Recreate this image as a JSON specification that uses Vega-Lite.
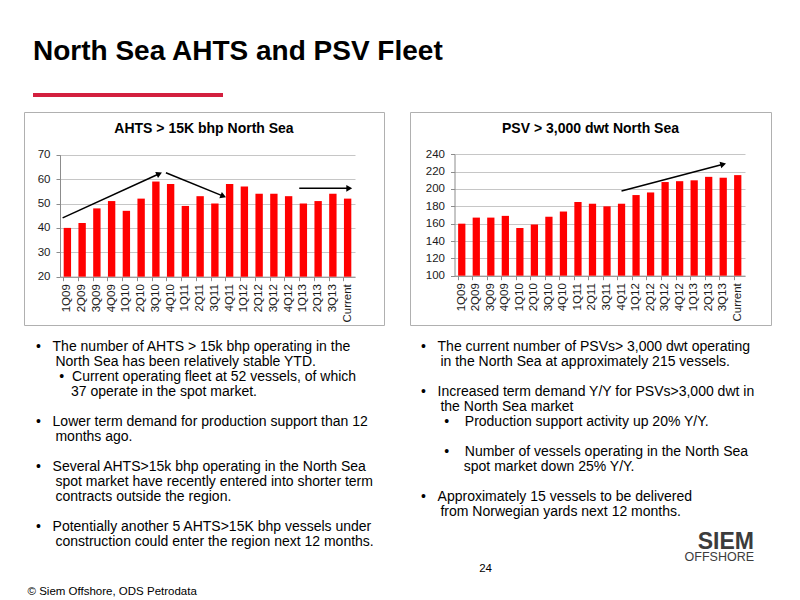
{
  "$schema": "https://vega.github.io/schema/vega-lite/v6.json",
  "background": "white",
  "padding": {"left": 23, "top": 38, "right": 0, "bottom": 0},
  "title": {"text": "© Siem Offshore, ODS Petrodata", "orient": "bottom", "anchor": "start", "fontSize": 11.5, "fontWeight": "normal", "color": "#000000", "offset": 11, "dx": 4},
  "config": {
    "view": {"stroke": null},
    "font": "Liberation Sans",
    "title": {"font": "Liberation Sans", "subtitleFont": "Liberation Sans", "color": "#000000"},
    "axis": {"labelFont": "Liberation Sans", "labelFontSize": 11.5, "labelColor": "#1a1a1a", "domainColor": "#8c8c8c", "tickColor": "#8c8c8c", "gridColor": "#c6c6c6", "labelOverlap": false}
  },
  "datasets": {
    "ahts": [
      {"quarter": "1Q09", "value": 40}, {"quarter": "2Q09", "value": 42}, {"quarter": "3Q09", "value": 48}, {"quarter": "4Q09", "value": 51},
      {"quarter": "1Q10", "value": 47}, {"quarter": "2Q10", "value": 52}, {"quarter": "3Q10", "value": 59}, {"quarter": "4Q10", "value": 58},
      {"quarter": "1Q11", "value": 49}, {"quarter": "2Q11", "value": 53}, {"quarter": "3Q11", "value": 50}, {"quarter": "4Q11", "value": 58},
      {"quarter": "1Q12", "value": 57}, {"quarter": "2Q12", "value": 54}, {"quarter": "3Q12", "value": 54}, {"quarter": "4Q12", "value": 53},
      {"quarter": "1Q13", "value": 50}, {"quarter": "2Q13", "value": 51}, {"quarter": "3Q13", "value": 54}, {"quarter": "Current", "value": 52}
    ],
    "psv": [
      {"quarter": "1Q09", "value": 160}, {"quarter": "2Q09", "value": 167}, {"quarter": "3Q09", "value": 167}, {"quarter": "4Q09", "value": 169},
      {"quarter": "1Q10", "value": 155}, {"quarter": "2Q10", "value": 159}, {"quarter": "3Q10", "value": 168}, {"quarter": "4Q10", "value": 174},
      {"quarter": "1Q11", "value": 185}, {"quarter": "2Q11", "value": 183}, {"quarter": "3Q11", "value": 180}, {"quarter": "4Q11", "value": 183},
      {"quarter": "1Q12", "value": 193}, {"quarter": "2Q12", "value": 196}, {"quarter": "3Q12", "value": 208}, {"quarter": "4Q12", "value": 209},
      {"quarter": "1Q13", "value": 210}, {"quarter": "2Q13", "value": 214}, {"quarter": "3Q13", "value": 213}, {"quarter": "Current", "value": 216}
    ],
    "ahtsArrows": [
      {"arrow": "rise", "point": "tail", "pos": -0.32, "value": 44.1},
      {"arrow": "rise", "point": "head", "pos": 6.23, "value": 62.2},
      {"arrow": "fall", "point": "tail", "pos": 6.68, "value": 62.6},
      {"arrow": "fall", "point": "head", "pos": 10.57, "value": 53.0},
      {"arrow": "flat", "point": "tail", "pos": 15.72, "value": 56.2},
      {"arrow": "flat", "point": "head", "pos": 19.11, "value": 56.2}
    ],
    "psvArrows": [
      {"arrow": "rise", "point": "tail", "pos": 11.0, "value": 197.7},
      {"arrow": "rise", "point": "head", "pos": 18.0, "value": 228.5}
    ]
  },
  "spacing": 14,
  "vconcat": [
    {
      "spacing": 8,
      "hconcat": [
        {"width": 1, "height": 4, "data": {"values": [{}]}, "mark": {"type": "rect", "opacity": 0}},
        {
          "width": 190, "height": 4,
          "data": {"values": [{}]},
          "mark": {"type": "rect", "color": "#d31f3e"},
          "title": {"text": "North Sea AHTS and PSV Fleet", "anchor": "start", "frame": "group", "fontSize": 28, "fontWeight": "bold", "offset": 27}
        }
      ]
    },
    {
      "spacing": 24,
      "hconcat": [
        {
          "width": 360, "height": 213,
          "view": {"stroke": "#b0b0b0", "strokeWidth": 1},
          "title": {"text": "AHTS > 15K bhp North Sea", "fontSize": 14, "fontWeight": "bold", "offset": -24, "frame": "group", "anchor": "middle"},
          "resolve": {"scale": {"x": "independent"}, "axis": {"x": "independent"}},
          "layer": [
            {
              "data": {"name": "ahts"},
              "mark": {"type": "bar", "color": "#ff0000"},
              "encoding": {
                "x": {"field": "quarter", "type": "ordinal", "sort": null,
                  "scale": {"range": [36, 331], "paddingInner": 0.5, "paddingOuter": 0.25},
                  "axis": {"title": null, "orient": "bottom", "offset": -48.3, "bandPosition": 0, "tickSize": 4, "labelAngle": 270, "labelPadding": 3, "grid": false}},
                "y": {"field": "value", "type": "quantitative",
                  "scale": {"domain": [20, 70], "range": [164.7, 42.7], "nice": false, "zero": false},
                  "axis": {"title": null, "offset": -36, "values": [20, 30, 40, 50, 60, 70], "tickSize": 4, "labelPadding": 6, "grid": true}},
                "y2": {"datum": 20}
              }
            },
            {
              "data": {"name": "ahtsArrows"},
              "mark": {"type": "line", "color": "#000000", "strokeWidth": 1.5},
              "encoding": {
                "x": {"field": "pos", "type": "quantitative", "scale": {"domain": [-0.5, 19.5], "range": [36, 331], "nice": false, "zero": false}, "axis": null},
                "y": {"field": "value", "type": "quantitative", "scale": {"domain": [20, 70], "range": [164.7, 42.7], "nice": false, "zero": false},
                  "axis": {"title": null, "offset": -36, "values": [20, 30, 40, 50, 60, 70], "tickSize": 4, "labelPadding": 6, "grid": true}},
                "detail": {"field": "arrow"}
              }
            },
            {
              "data": {"name": "ahtsArrows"},
              "transform": [{"filter": "datum.arrow == 'rise' && datum.point == 'head'"}],
              "mark": {"type": "point", "shape": "triangle-right", "filled": true, "color": "#000000", "opacity": 1, "size": 45, "angle": -24.6},
              "encoding": {
                "x": {"field": "pos", "type": "quantitative", "scale": {"domain": [-0.5, 19.5], "range": [36, 331], "nice": false, "zero": false}, "axis": null},
                "y": {"field": "value", "type": "quantitative", "scale": {"domain": [20, 70], "range": [164.7, 42.7], "nice": false, "zero": false},
                  "axis": {"title": null, "offset": -36, "values": [20, 30, 40, 50, 60, 70], "tickSize": 4, "labelPadding": 6, "grid": true}}
              }
            },
            {
              "data": {"name": "ahtsArrows"},
              "transform": [{"filter": "datum.arrow == 'fall' && datum.point == 'head'"}],
              "mark": {"type": "point", "shape": "triangle-right", "filled": true, "color": "#000000", "opacity": 1, "size": 45, "angle": 22.2},
              "encoding": {
                "x": {"field": "pos", "type": "quantitative", "scale": {"domain": [-0.5, 19.5], "range": [36, 331], "nice": false, "zero": false}, "axis": null},
                "y": {"field": "value", "type": "quantitative", "scale": {"domain": [20, 70], "range": [164.7, 42.7], "nice": false, "zero": false},
                  "axis": {"title": null, "offset": -36, "values": [20, 30, 40, 50, 60, 70], "tickSize": 4, "labelPadding": 6, "grid": true}}
              }
            },
            {
              "data": {"name": "ahtsArrows"},
              "transform": [{"filter": "datum.arrow == 'flat' && datum.point == 'head'"}],
              "mark": {"type": "point", "shape": "triangle-right", "filled": true, "color": "#000000", "opacity": 1, "size": 45, "angle": 0},
              "encoding": {
                "x": {"field": "pos", "type": "quantitative", "scale": {"domain": [-0.5, 19.5], "range": [36, 331], "nice": false, "zero": false}, "axis": null},
                "y": {"field": "value", "type": "quantitative", "scale": {"domain": [20, 70], "range": [164.7, 42.7], "nice": false, "zero": false},
                  "axis": {"title": null, "offset": -36, "values": [20, 30, 40, 50, 60, 70], "tickSize": 4, "labelPadding": 6, "grid": true}}
              }
            }
          ]
        },
        {
          "width": 361, "height": 213,
          "view": {"stroke": "#b0b0b0", "strokeWidth": 1},
          "title": {"text": "PSV > 3,000 dwt North Sea", "fontSize": 14, "fontWeight": "bold", "offset": -24, "frame": "group", "anchor": "middle"},
          "resolve": {"scale": {"x": "independent"}, "axis": {"x": "independent"}},
          "layer": [
            {
              "data": {"name": "psv"},
              "mark": {"type": "bar", "color": "#ff0000"},
              "encoding": {
                "x": {"field": "quarter", "type": "ordinal", "sort": null,
                  "scale": {"range": [44.5, 335], "paddingInner": 0.5, "paddingOuter": 0.25},
                  "axis": {"title": null, "orient": "bottom", "offset": -49.3, "bandPosition": 0, "tickSize": 4, "labelAngle": 270, "labelPadding": 3, "grid": false}},
                "y": {"field": "value", "type": "quantitative",
                  "scale": {"domain": [100, 240], "range": [163.7, 42.3], "nice": false, "zero": false},
                  "axis": {"title": null, "offset": -44.5, "values": [100, 120, 140, 160, 180, 200, 220, 240], "tickSize": 4, "labelPadding": 6, "grid": true}},
                "y2": {"datum": 100}
              }
            },
            {
              "data": {"name": "psvArrows"},
              "mark": {"type": "line", "color": "#000000", "strokeWidth": 1.5},
              "encoding": {
                "x": {"field": "pos", "type": "quantitative", "scale": {"domain": [-0.5, 19.5], "range": [44.5, 335], "nice": false, "zero": false}, "axis": null},
                "y": {"field": "value", "type": "quantitative", "scale": {"domain": [100, 240], "range": [163.7, 42.3], "nice": false, "zero": false},
                  "axis": {"title": null, "offset": -44.5, "values": [100, 120, 140, 160, 180, 200, 220, 240], "tickSize": 4, "labelPadding": 6, "grid": true}},
                "detail": {"field": "arrow"}
              }
            },
            {
              "data": {"name": "psvArrows"},
              "transform": [{"filter": "datum.point == 'head'"}],
              "mark": {"type": "point", "shape": "triangle-right", "filled": true, "color": "#000000", "opacity": 1, "size": 45, "angle": -14.7},
              "encoding": {
                "x": {"field": "pos", "type": "quantitative", "scale": {"domain": [-0.5, 19.5], "range": [44.5, 335], "nice": false, "zero": false}, "axis": null},
                "y": {"field": "value", "type": "quantitative", "scale": {"domain": [100, 240], "range": [163.7, 42.3], "nice": false, "zero": false},
                  "axis": {"title": null, "offset": -44.5, "values": [100, 120, 140, 160, 180, 200, 220, 240], "tickSize": 4, "labelPadding": 6, "grid": true}}
              }
            }
          ]
        }
      ]
    },
    {
      "spacing": 27,
      "hconcat": [
        {
          "width": 370, "height": 1,
          "data": {"values": [{}]},
          "mark": {"type": "rect", "opacity": 0},
          "title": {
            "text": [
              "•\u00a0\u00a0\u00a0The number of AHTS > 15k bhp operating in the",
              "\u200b\u00a0\u00a0\u00a0\u00a0\u00a0North Sea has been relatively stable YTD.",
              "\u200b\u00a0\u00a0\u00a0\u00a0\u00a0\u00a0•\u00a0\u00a0Current operating fleet at 52 vessels, of which",
              "\u200b\u00a0\u00a0\u00a0\u00a0\u00a0\u00a0\u00a0\u00a0\u00a037 operate in the spot market.",
              "\u200b",
              "•\u00a0\u00a0\u00a0Lower term demand for production support than 12",
              "\u200b\u00a0\u00a0\u00a0\u00a0\u00a0months ago.",
              "\u200b",
              "•\u00a0\u00a0\u00a0Several AHTS>15k bhp operating in the North Sea",
              "\u200b\u00a0\u00a0\u00a0\u00a0\u00a0spot market have recently entered into shorter term",
              "\u200b\u00a0\u00a0\u00a0\u00a0\u00a0contracts outside the region.",
              "\u200b",
              "•\u00a0\u00a0\u00a0Potentially another 5 AHTS>15K bhp vessels under",
              "\u200b\u00a0\u00a0\u00a0\u00a0\u00a0construction could enter the region next 12 months."
            ],
            "orient": "bottom", "anchor": "start", "frame": "group", "fontSize": 14, "fontWeight": "normal", "lineHeight": 15, "dx": 12, "offset": -2
          }
        },
        {
          "spacing": 10,
          "vconcat": [
            {
              "width": 340, "height": 1,
              "data": {"values": [{}]},
              "mark": {"type": "rect", "opacity": 0},
              "title": {
                "text": [
                  "•\u00a0\u00a0\u00a0The current number of PSVs> 3,000 dwt operating",
                  "\u200b\u00a0\u00a0\u00a0\u00a0\u00a0in the North Sea at approximately 215 vessels.",
                  "\u200b",
                  "•\u00a0\u00a0\u00a0Increased term demand Y/Y for PSVs>3,000 dwt in",
                  "\u200b\u00a0\u00a0\u00a0\u00a0\u00a0the North Sea market",
                  "\u200b\u00a0\u00a0\u00a0\u00a0\u00a0\u00a0•\u00a0\u00a0\u00a0\u00a0Production support activity up 20% Y/Y.",
                  "\u200b",
                  "\u200b\u00a0\u00a0\u00a0\u00a0\u00a0\u00a0•\u00a0\u00a0\u00a0\u00a0Number of vessels operating in the North Sea",
                  "\u200b\u00a0\u00a0\u00a0\u00a0\u00a0\u00a0\u00a0\u00a0\u00a0\u00a0\u00a0spot market down 25% Y/Y.",
                  "\u200b",
                  "•\u00a0\u00a0\u00a0Approximately 15 vessels to be delivered",
                  "\u200b\u00a0\u00a0\u00a0\u00a0\u00a0from Norwegian yards next 12 months."
                ],
                "orient": "bottom", "anchor": "start", "frame": "group", "fontSize": 14, "fontWeight": "normal", "lineHeight": 15, "offset": -2
              }
            },
            {
              "spacing": 0,
              "hconcat": [
                {
                  "width": 71, "height": 30,
                  "data": {"values": [{}]},
                  "mark": {"type": "rect", "opacity": 0},
                  "title": {"text": "24", "orient": "bottom", "anchor": "end", "frame": "group", "fontSize": 11.5, "fontWeight": "normal", "offset": 4}
                },
                {
                  "width": 262, "height": 1,
                  "data": {"values": [{}]},
                  "mark": {"type": "rect", "opacity": 0},
                  "title": {"text": "SIEM", "subtitle": "OFFSHORE", "orient": "bottom", "anchor": "end", "frame": "group", "fontSize": 23, "fontWeight": 900, "color": "#3c3c3c", "subtitleFontSize": 12.5, "subtitleColor": "#3c3c3c", "subtitlePadding": -3, "offset": 1}
                }
              ]
            }
          ]
        }
      ]
    }
  ]
}
